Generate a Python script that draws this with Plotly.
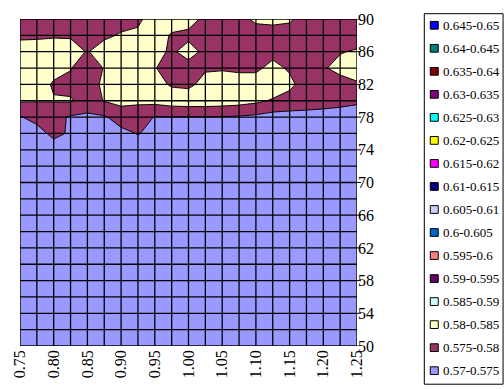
import plotly.graph_objects as go

# Grid of the response surface: x (ratio) and y (temperature-like scale)
x_vals = [0.75, 0.775, 0.80, 0.825, 0.85, 0.875, 0.90, 0.925, 0.95, 0.975, 1.00,
          1.025, 1.05, 1.075, 1.10, 1.125, 1.15, 1.175, 1.20, 1.225, 1.25]
y_vals = [50, 52, 54, 56, 58, 60, 62, 64, 66, 68, 70,
          72, 74, 76, 78, 80, 82, 84, 86, 88, 90]

# z values, one row per y value (bottom row = 50, top row = 90)
z_rows = [
    [0.5718, 0.5717, 0.5716, 0.5716, 0.5715, 0.5715, 0.5716, 0.5716, 0.5717, 0.5717, 0.5718, 0.5718, 0.5718, 0.5719, 0.5719, 0.5720, 0.5720, 0.5720, 0.5721, 0.5721, 0.5722],
    [0.5719, 0.5718, 0.5717, 0.5717, 0.5716, 0.5716, 0.5717, 0.5717, 0.5718, 0.5718, 0.5719, 0.5719, 0.5719, 0.5720, 0.5720, 0.5721, 0.5721, 0.5721, 0.5722, 0.5722, 0.5723],
    [0.5720, 0.5719, 0.5718, 0.5718, 0.5717, 0.5717, 0.5718, 0.5718, 0.5719, 0.5719, 0.5720, 0.5720, 0.5720, 0.5721, 0.5721, 0.5722, 0.5722, 0.5722, 0.5723, 0.5723, 0.5723],
    [0.5721, 0.5720, 0.5719, 0.5719, 0.5718, 0.5718, 0.5719, 0.5719, 0.5720, 0.5720, 0.5721, 0.5721, 0.5721, 0.5722, 0.5722, 0.5723, 0.5723, 0.5723, 0.5723, 0.5724, 0.5724],
    [0.5722, 0.5721, 0.5720, 0.5720, 0.5719, 0.5719, 0.5720, 0.5720, 0.5721, 0.5721, 0.5722, 0.5722, 0.5722, 0.5723, 0.5723, 0.5723, 0.5724, 0.5724, 0.5724, 0.5724, 0.5725],
    [0.5723, 0.5722, 0.5721, 0.5721, 0.5720, 0.5720, 0.5721, 0.5721, 0.5722, 0.5722, 0.5723, 0.5723, 0.5723, 0.5723, 0.5724, 0.5724, 0.5724, 0.5725, 0.5725, 0.5725, 0.5725],
    [0.5724, 0.5723, 0.5722, 0.5722, 0.5721, 0.5721, 0.5722, 0.5722, 0.5723, 0.5723, 0.5724, 0.5724, 0.5724, 0.5724, 0.5725, 0.5725, 0.5725, 0.5725, 0.5726, 0.5726, 0.5726],
    [0.5725, 0.5724, 0.5723, 0.5723, 0.5722, 0.5722, 0.5723, 0.5723, 0.5724, 0.5724, 0.5725, 0.5725, 0.5725, 0.5725, 0.5725, 0.5726, 0.5726, 0.5726, 0.5726, 0.5727, 0.5727],
    [0.5726, 0.5725, 0.5724, 0.5724, 0.5723, 0.5723, 0.5724, 0.5724, 0.5725, 0.5725, 0.5726, 0.5726, 0.5726, 0.5726, 0.5726, 0.5726, 0.5727, 0.5727, 0.5727, 0.5727, 0.5727],
    [0.5727, 0.5726, 0.5725, 0.5725, 0.5724, 0.5724, 0.5725, 0.5725, 0.5726, 0.5726, 0.5727, 0.5727, 0.5727, 0.5727, 0.5727, 0.5727, 0.5727, 0.5728, 0.5728, 0.5728, 0.5728],
    [0.5728, 0.5727, 0.5726, 0.5726, 0.5725, 0.5725, 0.5726, 0.5726, 0.5727, 0.5727, 0.5728, 0.5728, 0.5728, 0.5728, 0.5728, 0.5728, 0.5728, 0.5728, 0.5728, 0.5729, 0.5729],
    [0.5729, 0.5728, 0.5727, 0.5727, 0.5726, 0.5726, 0.5727, 0.5727, 0.5728, 0.5728, 0.5729, 0.5729, 0.5729, 0.5729, 0.5729, 0.5729, 0.5729, 0.5729, 0.5729, 0.5729, 0.5729],
    [0.5730, 0.5731, 0.5735, 0.5731, 0.5729, 0.5729, 0.5730, 0.5730, 0.5730, 0.5729, 0.5730, 0.5730, 0.5730, 0.5729, 0.5729, 0.5728, 0.5728, 0.5728, 0.5728, 0.5728, 0.5728],
    [0.5732, 0.5738, 0.5758, 0.5746, 0.5734, 0.5735, 0.5738, 0.5752, 0.5738, 0.5735, 0.5733, 0.5734, 0.5732, 0.5731, 0.5730, 0.5728, 0.5729, 0.5730, 0.5729, 0.5728, 0.5727],
    [0.5748, 0.5760, 0.5765, 0.5745, 0.5740, 0.5745, 0.5770, 0.5770, 0.5748, 0.5749, 0.5749, 0.5749, 0.5748, 0.5745, 0.5740, 0.5730, 0.5735, 0.5735, 0.5735, 0.5735, 0.5734],
    [0.5805, 0.5803, 0.5803, 0.5805, 0.5780, 0.5802, 0.5815, 0.5810, 0.5815, 0.5825, 0.5828, 0.5828, 0.5825, 0.5820, 0.5810, 0.5795, 0.5775, 0.5770, 0.5765, 0.5760, 0.5755],
    [0.5830, 0.5820, 0.5795, 0.5785, 0.5765, 0.5815, 0.5830, 0.5830, 0.5815, 0.5795, 0.5790, 0.5815, 0.5825, 0.5825, 0.5825, 0.5830, 0.5815, 0.5770, 0.5775, 0.5780, 0.5795],
    [0.5830, 0.5830, 0.5815, 0.5803, 0.5765, 0.5803, 0.5830, 0.5830, 0.5803, 0.5775, 0.5775, 0.5795, 0.5795, 0.5790, 0.5790, 0.5815, 0.5793, 0.5770, 0.5795, 0.5815, 0.5820],
    [0.5825, 0.5830, 0.5825, 0.5820, 0.5797, 0.5825, 0.5830, 0.5830, 0.5820, 0.5790, 0.5825, 0.5785, 0.5775, 0.5770, 0.5770, 0.5785, 0.5775, 0.5770, 0.5775, 0.5797, 0.5805],
    [0.5790, 0.5790, 0.5795, 0.5795, 0.5775, 0.5790, 0.5805, 0.5810, 0.5825, 0.5795, 0.5785, 0.5775, 0.5775, 0.5775, 0.5775, 0.5775, 0.5775, 0.5775, 0.5775, 0.5775, 0.5775],
    [0.5775, 0.5775, 0.5775, 0.5775, 0.5775, 0.5775, 0.5780, 0.5790, 0.5825, 0.5825, 0.5825, 0.5785, 0.5775, 0.5785, 0.5810, 0.5815, 0.5808, 0.5775, 0.5775, 0.5775, 0.5775],
]

# Contour bands (lowest first) and their fill colours
band_labels = ["0.57-0.575", "0.575-0.58", "0.58-0.585", "0.585-0.59", "0.59-0.595",
               "0.595-0.6", "0.6-0.605", "0.605-0.61", "0.61-0.615", "0.615-0.62",
               "0.62-0.625", "0.625-0.63", "0.63-0.635", "0.635-0.64", "0.64-0.645",
               "0.645-0.65"]
band_colors = ["#9999FF", "#993366", "#FFFFCC", "#CCFFFF", "#660066",
               "#FF8080", "#0066CC", "#CCCCFF", "#000080", "#FF00FF",
               "#FFFF00", "#00FFFF", "#800080", "#800000", "#008080",
               "#0000FF"]

x_ticks = [0.75, 0.80, 0.85, 0.90, 0.95, 1.00, 1.05, 1.10, 1.15, 1.20, 1.25]
x_ticktext = ["0.75", "0.80", "0.85", "0.90", "0.95", "1.00", "1.05", "1.10", "1.15", "1.20", "1.25"]
y_ticks = [50, 54, 58, 62, 66, 70, 74, 78, 82, 86, 90]

SERIF = "Liberation Serif, Times New Roman, serif"
W, H = 504, 389
L, R, T, B = 19, 147, 11, 40
PW, PH = W - L - R, H - T - B

n_bands = len(band_colors)
colorscale = [[k / (n_bands - 1), c] for k, c in enumerate(band_colors)]

fig = go.Figure()
fig.add_trace(go.Contour(
    x=x_vals, y=y_vals, z=z_rows,
    autocontour=False,
    contours=dict(start=0.575, end=0.645, size=0.005, coloring="fill", showlines=True),
    line=dict(color="black", width=1, smoothing=0),
    colorscale=colorscale, showscale=False, hoverinfo="skip",
))

shapes = []
# cell grid drawn above the filled bands
for xv in x_vals:
    shapes.append(dict(type="line", xref="x", yref="y", x0=xv, x1=xv, y0=y_vals[0], y1=y_vals[-1],
                       layer="above", line=dict(color="black", width=1.3)))
for yv in y_vals:
    shapes.append(dict(type="line", xref="x", yref="y", x0=x_vals[0], x1=x_vals[-1], y0=yv, y1=yv,
                       layer="above", line=dict(color="black", width=1.3)))
# short outside ticks on the right-hand value axis
for yv in y_ticks:
    shapes.append(dict(type="line", xref="paper", yref="y", x0=1, x1=1 + 4 / PW, y0=yv, y1=yv,
                       layer="above", line=dict(color="black", width=1)))


def px_x(p):
    return (p - L) / PW


def px_y(p):
    return (H - B - p) / PH


# legend box with one swatch per band, highest band on top
shapes.append(dict(type="rect", xref="paper", yref="paper",
                   x0=px_x(424.5), x1=px_x(503.5), y0=px_y(388.5), y1=px_y(5.5),
                   line=dict(color="black", width=1), fillcolor="white", layer="above"))
annotations = []
for k, (lab, col) in enumerate(zip(reversed(band_labels), reversed(band_colors))):
    cy = 17.5 + 23.8 * k
    shapes.append(dict(type="rect", xref="paper", yref="paper",
                       x0=px_x(430.5), x1=px_x(438.5), y0=px_y(cy + 4), y1=px_y(cy - 4),
                       line=dict(color="black", width=1), fillcolor=col, layer="above"))
    annotations.append(dict(xref="paper", yref="paper", x=px_x(441.5), y=px_y(cy),
                            xanchor="left", yanchor="middle", text=lab, showarrow=False,
                            font=dict(family=SERIF, size=13, color="black")))

fig.update_layout(
    width=W, height=H,
    margin=dict(l=L, r=R, t=T, b=B, pad=0),
    paper_bgcolor="white", plot_bgcolor="white",
    showlegend=False,
    shapes=shapes, annotations=annotations,
    xaxis=dict(range=[0.75, 1.25], tickvals=x_ticks, ticktext=x_ticktext, tickangle=-90,
               tickfont=dict(family=SERIF, size=16, color="black"),
               showgrid=False, zeroline=False, showline=False, ticks=""),
    yaxis=dict(range=[50, 90], tickvals=y_ticks, side="right",
               tickfont=dict(family=SERIF, size=16, color="black"),
               showgrid=False, zeroline=False, showline=False, ticks=""),
)

fig.write_html("out.html")
